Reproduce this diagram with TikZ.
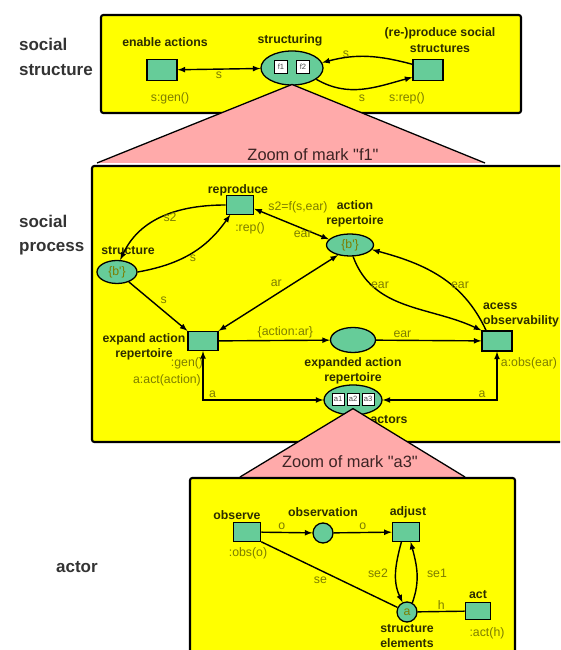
\documentclass[tikz,border=0pt]{standalone}
\usepackage{fontspec}
\setmainfont{Liberation Sans}
\usepackage{xcolor}
\usetikzlibrary{shapes.geometric}

\definecolor{netyellow}{RGB}{255,255,0}
\definecolor{netgreen}{RGB}{102,204,153}
\definecolor{zoompink}{RGB}{255,170,170}
\definecolor{inscr}{RGB}{125,125,0}
\definecolor{namecol}{RGB}{45,45,0}
\definecolor{zoomtext}{RGB}{60,35,35}

\begin{document}
\begin{tikzpicture}[
x=0.03cm, y=0.03cm,
levelbox/.style={draw, line width=1.8pt, fill=netyellow, rounded corners=2pt},
levelname/.style={font=\fontsize{14.5}{21}\selectfont\bfseries, text=black!80, align=left, anchor=west},
trans/.style={draw, line width=1.1pt, fill=netgreen, minimum width=0.82cm, minimum height=0.55cm, inner sep=0pt},
place/.style={draw, ellipse, line width=1.1pt, fill=netgreen, inner sep=0pt, font=\fontsize{10.5}{12}\selectfont, text=inscr},
token/.style={draw, fill=white, line width=0.7pt, minimum size=0.38cm, inner sep=0pt, font=\fontsize{6.5}{7}\selectfont, text=black!70},
tname/.style={font=\fontsize{10.5}{13}\selectfont\bfseries, text=namecol, align=center},
lbl/.style={font=\fontsize{10.5}{13}\selectfont, text=inscr, inner sep=1.5pt},
zoomlbl/.style={font=\fontsize{14}{16}\selectfont, text=zoomtext},
arrow/.style={->, >=latex, line width=1.2pt}
]
\useasboundingbox (0,0) rectangle (560,650);
\clip (0,0) rectangle (560,650);

% social structure
\draw[levelbox] (101,537) rectangle (521,635);
\node[levelname] (lv1) at (15,593) {social\\structure};

\node[trans, minimum width=0.9cm, minimum height=0.63cm] (gen) at (162,580) {};
\node[place, minimum width=1.86cm, minimum height=1.02cm] (structuring) at (292,582) {};
\node[token] (f1) at (281,583) {f1};
\node[token] (f2) at (303,583) {f2};
\node[trans, minimum width=0.9cm, minimum height=0.63cm] (rep) at (428,580) {};

\node[tname] (n1) at (165,608) {enable actions};
\node[tname] (n2) at (290,610) {structuring};
\node[tname] (n3) at (440,610) {(re-)produce social\\structures};
\node[lbl] (i1) at (170,552) {s:gen()};
\node[lbl] (i2) at (407,552) {s:rep()};

\draw[arrow, <->] (gen) -- node[lbl, below] (e1) {s} (structuring);
\draw[arrow] (rep.160) to[out=165, in=15] node[lbl, pos=0.75, above=-2pt] (e2) {s} (structuring.10);
\draw[arrow] (structuring.-25) to[out=-30, in=195] (rep.-155);
\node[lbl] (e3) at (362,552) {s};

% zoom of f1
\coordinate (apex1) at ([yshift=1pt]structuring.south);
\fill[zoompink] (apex1) -- (97,487) -- (485,487) -- cycle;
\draw[line width=1.1pt] (97,487) -- (apex1) -- (485,487);
\node[zoomlbl] (z1) at (313,495) {Zoom of mark \textquotedbl f1\textquotedbl};

% social process
\draw[levelbox] (92,208) rectangle (600,484);
\node[levelname] (lv2) at (15,415) {social\\process};

\node[trans] (reproduce) at (240,445) {};
\node[place, minimum width=1.41cm, minimum height=0.66cm] (actrep) at (350,405) {\{b\textquotesingle\}};
\node[place, minimum width=1.2cm, minimum height=0.69cm] (structure) at (117,378) {\{b\textquotesingle\}};
\node[trans, minimum width=0.9cm, minimum height=0.57cm] (expand) at (203,309) {};
\node[place, minimum width=1.35cm, minimum height=0.75cm] (expanded) at (353,310) {};
\node[trans, minimum width=0.9cm, minimum height=0.6cm] (access) at (497,309) {};
\node[place, minimum width=1.74cm, minimum height=0.9cm] (actors) at (353,250) {};
\node[token, minimum size=0.36cm] (a1) at (338,251) {a1};
\node[token, minimum size=0.36cm] (a2) at (353,251) {a2};
\node[token, minimum size=0.36cm] (a3) at (368,251) {a3};

\node[tname] (n4) at (238,460) {reproduce};
\node[lbl] (i3) at (250,422) {:rep()};
\node[lbl] (i4) at (298,443) {s2=f(s,ear)};
\node[tname] (n5) at (355,436) {action\\repertoire};
\node[tname] (n6) at (128,399) {structure};
\node[tname] (n7) at (144,303) {expand action\\repertoire};
\node[lbl] (i5) at (187,287) {:gen()};
\node[lbl] (i6) at (167,270) {a:act(action)};
\node[tname] (n8) at (353,279) {expanded action\\repertoire};
\node[tname, align=left, anchor=west] (n9) at (479,335) {acess\\observability};
\node[lbl] (i7) at (529,287) {a:obs(ear)};
\node[tname] (n10) at (389,230) {actors};

\draw[arrow] (reproduce.west) to[out=180, in=65] (structure.75);
\node[lbl] (e4) at (170,433) {s2};
\draw[arrow] (structure.east) to[out=10, in=235] (reproduce.-135);
\node[lbl] (e5) at (193,392) {s};
\draw[arrow, <->] (reproduce.-15) -- node[lbl, pos=0.65, below] (e6) {ear} (actrep.165);
\draw[arrow] (structure) -- node[lbl, above right] (e7) {s} (expand.north west);
\draw[arrow, <->] (expand.north east) -- node[lbl, pos=0.55, above left] (e8) {ar} (actrep.-140);
\draw[arrow] (actrep.-75) to[out=-70, in=155] (access.north west);
\node[lbl] (e9) at (380,365) {ear};
\draw[arrow] ([xshift=4pt]access.north west) to[out=115, in=-15] (actrep.-12);
\node[lbl] (e10) at (460,365) {ear};
\draw[arrow] (expand) -- node[lbl, pos=0.6, above] (e11) {\{action:ar\}} (expanded);
\draw[arrow] (expanded) -- node[lbl, pos=0.25, above] (e12) {ear} (access);
\draw[arrow, <->] (expand) |- node[lbl, pos=0.54, above] (e13) {a} (actors);
\draw[arrow, <->] (access) |- node[lbl, pos=0.565, above] (e14) {a} (actors);

% zoom of a3
\coordinate (apex2) at ([yshift=6pt]actors.south);
\fill[zoompink] (apex2) -- (240,173) -- (465,173) -- cycle;
\draw[line width=1.1pt] (240,173) -- (apex2) -- (465,173);
\node[zoomlbl] (z2) at (350,188) {Zoom of mark \textquotedbl a3\textquotedbl};

% actor
\draw[levelbox] (190,-50) rectangle (515,172);
\node[levelname] (lv3) at (52,83) {actor};

\node[trans] (observe) at (247,118) {};
\node[place, circle, minimum size=0.6cm] (observation) at (323,117) {};
\node[trans] (adjust) at (406,118) {};
\node[place, circle, minimum size=0.6cm] (selem) at (407,38) {a};
\node[trans, minimum width=0.76cm, minimum height=0.52cm] (act) at (478,39) {};

\node[tname] (n11) at (237,135) {observe};
\node[lbl] (i8) at (248,97) {:obs(o)};
\node[tname] (n12) at (323,138) {observation};
\node[tname] (n13) at (408,138) {adjust};
\node[tname] (n14) at (407,14) {structure\\elements};
\node[tname] (n15) at (478,55) {act};
\node[lbl] (i9) at (487,17) {:act(h)};

\draw[arrow] (observe) -- node[lbl, pos=0.4, above] (e15) {o} (observation);
\draw[arrow] (observation) -- node[lbl, above] (e16) {o} (adjust);
\draw[line width=1.2pt] (observe.south east) -- node[lbl, below left] (e17) {se} (selem);
\draw[arrow] (adjust.-115) to[out=-105, in=115] (selem.115);
\node[lbl] (e18) at (378,77) {se2};
\draw[arrow] (selem.60) to[out=70, in=-75] (adjust.-65);
\node[lbl] (e19) at (437,77) {se1};
\draw[line width=1.2pt] (selem) -- node[lbl, above] (e20) {h} (act);

\end{tikzpicture}
\end{document}
